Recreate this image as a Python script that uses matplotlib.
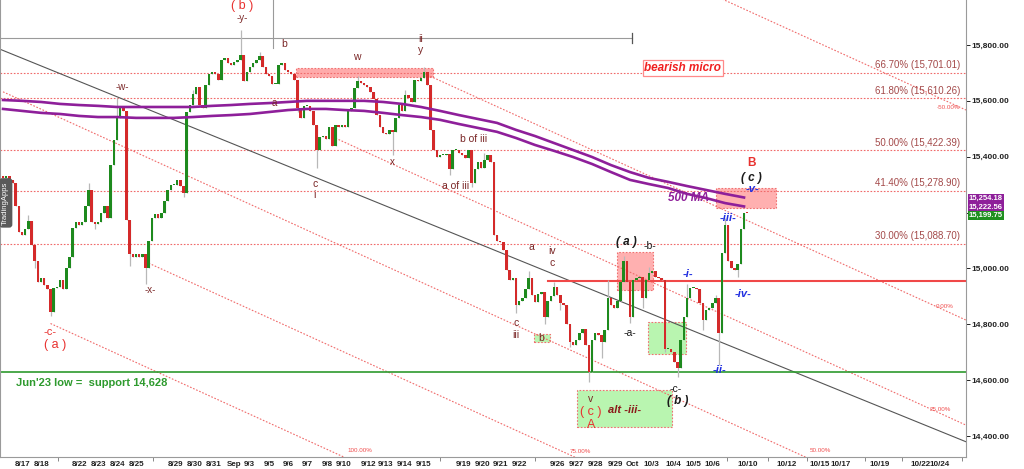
import matplotlib.pyplot as plt
from matplotlib.patches import Rectangle
import numpy as np

plt.rcParams['font.family'] = ['Liberation Sans', 'DejaVu Sans']

# ---- price data (4h bars) ----
first_open = 15330
closes = [
    15325, 15330, 15315, 15305, 15225, 15130, 15120, 15140, 15170, 15085,
    15025, 14950, 14965, 14940, 14925, 14845, 14930, 14935, 14960, 14925,
    15000, 15040, 15145, 15165, 15155, 15165, 15225, 15280, 15165, 15160,
    15165, 15200, 15225, 15180, 15370, 15460, 15540, 15580, 15565, 15175,
    15050, 15040, 15050, 15040, 15050, 15000, 15100, 15180, 15195, 15180,
    15200, 15240, 15280, 15300, 15300, 15315, 15295, 15270, 15560, 15585,
    15625, 15650, 15585, 15575, 15655, 15695, 15705, 15695, 15675, 15745,
    15755, 15735, 15730, 15740, 15745, 15765, 15670, 15705, 15720, 15735,
    15745, 15760, 15720, 15695, 15690, 15660, 15660, 15730, 15735, 15710,
    15705, 15695, 15675, 15575, 15540, 15580, 15580, 15565, 15515, 15425,
    15470, 15475, 15465, 15505, 15440, 15515, 15505, 15515, 15505, 15565,
    15575, 15645, 15670, 15665, 15655, 15650, 15630, 15605, 15550, 15505,
    15485, 15480, 15495, 15490, 15540, 15585, 15565, 15620, 15610, 15595,
    15675, 15670, 15680, 15705, 15655, 15495, 15425, 15400, 15405, 15405,
    15410, 15355, 15425, 15425, 15415, 15405, 15395, 15425, 15305, 15355,
    15380, 15360, 15390, 15405, 15380, 15120, 15100, 15095, 15065, 14995,
    14960, 14965, 14870, 14885, 14895, 14925, 14965, 14905, 14880, 14910,
    14915, 14825, 14885, 14900, 14935, 14905, 14875, 14870, 14800, 14735,
    14725, 14745, 14770, 14785, 14725, 14630, 14745, 14770, 14760, 14735,
    14780, 14895, 14870, 14860, 14885, 14950, 15025, 14950, 14825, 14960,
    14965, 14970, 14895, 14960, 14985, 14990, 14970, 14965, 14960, 14710,
    14710, 14700, 14665, 14645, 14745, 14825, 14895, 14930, 14930, 14925,
    14875, 14815, 14850, 14860, 14875, 14895, 14770, 15055, 15155, 15025,
    15000, 14995, 15015, 15140, 15200, 15199.75,
]
# visible wicks (bar index: price)
wick_lows = {10: 15000, 15: 14830, 29: 15140, 40: 15010, 45: 14945, 57: 15255,
             93: 15560, 99: 15360, 123: 15405, 141: 15335, 148: 15290,
             162: 14840, 171: 14800, 176: 14850, 179: 14720, 185: 14595,
             189: 14680, 198: 14805, 202: 14860, 209: 14700, 213: 14610,
             221: 14780, 226: 14655, 232: 14970}
wick_highs = {8: 15190, 27: 15305, 36: 15610, 60: 15640, 75: 15855, 81: 15775,
              112: 15690, 127: 15640, 133: 15720, 152: 15415, 166: 14990,
              174: 14950, 191: 14960, 196: 15045, 204: 15005, 216: 14945,
              225: 14905, 228: 15180}

# 500 MA pair, one reading every 6 bars
ma_every = 6
ma_upper = [15603, 15600, 15596, 15589, 15585, 15582, 15578, 15578, 15578, 15578,
            15578, 15582, 15585, 15589, 15592, 15596, 15600, 15600, 15600, 15600,
            15596, 15589, 15578, 15564, 15549, 15535, 15521, 15496, 15474, 15449,
            15424, 15399, 15370, 15345, 15324, 15310, 15295, 15281, 15267, 15254]
ma_lower = [15571, 15564, 15557, 15553, 15546, 15542, 15542, 15539, 15539, 15539,
            15542, 15546, 15549, 15553, 15560, 15567, 15571, 15571, 15567, 15564,
            15557, 15549, 15542, 15532, 15517, 15503, 15489, 15467, 15442, 15421,
            15399, 15374, 15345, 15317, 15302, 15288, 15267, 15252, 15234, 15222]

fib_names = ['66.70%', '61.80%', '50.00%', '41.40%', '30.00%']
fib_prices = [15701.01, 15610.26, 15422.39, 15278.90, 15088.70]

support = 14628
resistance = 14955
top_line = 15825

# fib channel
chan_levels = [-50, 0, 25, 50, 75, 100]
chan_start = [150, 133, 105, 0, 46, 15]
chan_anchor = (133, 15698)
chan_slope = -5.16
chan_step = 376

trend_pts = [(37, 15610), (304, 14380)]

date_labels = ['8/17', '8/18', '8/22', '8/23', '8/24', '8/25', '8/29', '8/30', '8/31',
               'Sep', '9/3', '9/5', '9/6', '9/7', '9/8', '9/10', '9/12', '9/13', '9/14',
               '9/15', '9/19', '9/20', '9/21', '9/22', '9/26', '9/27', '9/28', '9/29',
               'Oct', '10/3', '10/4', '10/5', '10/6', '10/10', '10/12', '10/15',
               '10/17', '10/19', '10/22', '10/24']
date_pos = [6.3, 12.3, 24.3, 30.3, 36.3, 42.3, 54.6, 60.6, 66.6, 72.9, 77.7, 84.0,
            90.0, 96.0, 102.3, 107.7, 115.3, 120.9, 126.9, 132.9, 145.3, 151.3,
            157.2, 163.2, 175.2, 181.2, 187.2, 193.3, 198.6, 204.9, 211.6, 217.9,
            223.9, 235.2, 247.6, 258.0, 264.6, 276.9, 289.6, 295.9]
blank_days = [17.4, 47.4, 138.0, 168.0, 228.6, 241.6, 253.9, 272.2, 284.0, 302.8]

price_ticks = [14400, 14600, 14800, 15000, 15200, 15400, 15600, 15800]
hidden_tick = 15200   # covered by the last-price tags in the source

last_prices = [15254.18, 15222.56, 15199.75]
last_colors = ['#8e1f9a', '#8e1f9a', '#1f8f1f']
tag_y = [0.565, 0.5465, 0.528]   # tag centres, axes fraction (stacked like the source)

# ---- figure ----
fig = plt.figure(figsize=(10.24, 4.69), dpi=100)
ax = fig.add_axes([0, 12 / 469, 966 / 1024, 457 / 469])
x0, x1 = -0.95, 304.1
ax.set_xlim(x0, x1)
ax.set_ylim(14325, 15961)

RED_DOT = dict(color='#f06a6a', lw=0.8, ls=(0, (1.5, 1.5)))
BROWN = '#7a2626'
RED = '#e8312f'
BLUE = '#1f2de0'

# zones
def zone(xa, xb, pa, pb, face, edge='#f07070', z=1):
    ax.add_patch(Rectangle((xa, pa), xb - xa, pb - pa, facecolor=face,
                           edgecolor=edge, lw=0.8, ls=(0, (1.5, 1.5)), zorder=z))

zone(92.5, 135.8, 15685, 15718, '#ffaaaa')
zone(193.9, 205.2, 14923, 15059, '#ffb0b0')
zone(225.1, 244.1, 15217, 15288, '#ffb0b0')
zone(167.7, 172.7, 14737, 14766, '#b9f5b0')
zone(203.7, 215.7, 14694, 14809, '#b9f5b0')
zone(181.2, 211.2, 14433, 14565, '#b9f5b0')

# fib retracement lines + labels
for name, p in zip(fib_names, fib_prices):
    ax.plot([x0, x1], [p, p], zorder=2, **RED_DOT)
    ax.text(302.2, p + 8, f'{name} ({p:,.2f})', ha='right', va='bottom',
            fontsize=7, color='#a44a4a', zorder=6)

# fib channel
ai, ap = chan_anchor
for lev, st in zip(chan_levels, chan_start):
    xs = np.array([st, x1])
    ax.plot(xs, ap - lev / 25 * chan_step + chan_slope * (xs - ai), zorder=2, **RED_DOT)
for txt, xp, yp in [('0.00%', 297.4, 14862), ('25.00%', 295.9, 14494),
                    ('50.00%', 258.0, 14350), ('75.00%', 182.2, 14343),
                    ('100.00%', 112.7, 14350), ('-50.00%', 298.5, 15575)]:
    ax.text(xp, yp, txt, fontsize=4.5, color='#f05050', ha='center', va='center', zorder=6)

# trend line
(ta, pa), (tb, pb) = trend_pts
k = (pb - pa) / (tb - ta)
ax.plot([x0, x1], [pa + k * (x0 - ta), pa + k * (x1 - ta)], color='#555555', lw=0.8, zorder=2)

# grey top marker
ax.plot([x0, 198.6], [top_line, top_line], color='#9a9a9a', lw=0.8, zorder=2)
ax.plot([198.6, 198.6], [top_line - 18, top_line + 18], color='#555555', lw=0.9, zorder=2)
ax.plot([85.3, 85.3], [15789, 15961], color='#9a9a9a', lw=0.8, zorder=2)

# support / resistance
ax.axhline(support, color='#2e9a2e', lw=1.2, zorder=2)
ax.plot([172.1, x1], [resistance, resistance], color='#f04848', lw=1.5, zorder=2)

# candles
c = np.array(closes, dtype=float)
o = np.r_[first_open, c[:-1]]
n = len(c)
idx = np.arange(n)
hi = np.maximum(o, c)
lo = np.minimum(o, c)
for i, v in wick_highs.items():
    hi[i] = max(hi[i], v)
for i, v in wick_lows.items():
    lo[i] = min(lo[i], v)
ax.vlines(idx, lo, hi, color='#b8b8b8', lw=0.9, zorder=3)
body = np.maximum(np.abs(c - o), 4)
bot = np.minimum(o, c)
up = c >= o
ax.bar(idx[up], body[up], bottom=bot[up], width=0.8, color='#1e8a1e', zorder=4)
ax.bar(idx[~up], body[~up], bottom=bot[~up], width=0.8, color='#d42a2a', zorder=4)

# 500 MA
mx = np.arange(len(ma_upper)) * ma_every
ax.plot(mx, ma_upper, color='#8e1f9a', lw=1.9, zorder=5)
ax.plot(mx, ma_lower, color='#8e1f9a', lw=1.9, zorder=5)

# wave labels
def lab(x, y, s, color=BROWN, size=7, weight='normal', style='normal'):
    ax.text(x, y, s, color=color, fontsize=size, fontweight=weight, fontstyle=style,
            ha='center', va='center', zorder=7)

lab(75.5, 15940, '( b )', RED, 9)
lab(75.5, 15895, '-y-')
lab(88.7, 15804, 'b', size=7.5)
lab(37.6, 15650, '-w-')
lab(85.6, 15592, 'a')
lab(111.8, 15757, 'w', size=7.5)
lab(132, 15821, 'ii', size=7.5)
lab(132, 15782, 'y', size=7.5)
lab(122.8, 15381, 'x')
lab(98.5, 15302, 'c', size=7.5)
lab(98.5, 15263, 'i', size=7.5)
lab(148.7, 15464, 'b of iii', size=7.5)
lab(143.0, 15295, 'a of iii', size=7.5)
lab(166.7, 15077, 'a', size=7.5)
lab(173.4, 15063, 'iv', size=7.5)
lab(173.4, 15020, 'c', size=7.5)
lab(162.0, 14805, 'c', size=7.5)
lab(162.0, 14762, 'iii', size=7.5)
lab(169.9, 14751, 'b', size=7.5)
lab(185.7, 14533, 'v', size=7.5)
lab(185.7, 14486, '( c )', RED, 9)
lab(185.7, 14440, 'A', RED, 9)
lab(196.4, 14494, 'alt -iii-', '#8b1a1a', 8, 'bold', 'italic')
lab(197.0, 15095, '( a )', '#1a1a1a', 8.5, 'bold', 'italic')
lab(204.3, 15081, '-b-', '#1a1a1a', 7.5)
lab(198.0, 14769, '-a-', '#1a1a1a', 7.5)
lab(212.5, 14569, '-c-', '#1a1a1a', 7.5)
lab(213.1, 14526, '( b )', '#1a1a1a', 8.5, 'bold', 'italic')
lab(216.3, 14980, '-i-', BLUE, 8, 'bold', 'italic')
lab(226.4, 14637, '-ii-', BLUE, 8, 'bold', 'italic')
lab(228.9, 15181, '-iii-', BLUE, 8, 'bold', 'italic')
lab(233.7, 14909, '-iv-', BLUE, 8, 'bold', 'italic')
lab(236.8, 15285, '-v-', BLUE, 8, 'bold', 'italic')
lab(236.2, 15324, '( c )', '#1a1a1a', 8.5, 'bold', 'italic')
lab(236.5, 15378, 'B', RED, 8.5, 'bold')
lab(216.6, 15252, '500 MA', '#8e1f9a', 8.5, 'bold', 'italic')
lab(46.4, 14923, '-x-')
lab(14.8, 14773, '-c-', RED, 8)
lab(16.4, 14726, '( a )', RED, 9)

ax.text(4.1, support - 38, "Jun'23 low =  support 14,628", color='#2e9a2e',
        fontsize=8, fontweight='bold', ha='left', va='center', zorder=7)
ax.text(214.7, 15718, 'bearish micro', color='#f02020', fontsize=8.5,
        fontweight='bold', fontstyle='italic', ha='center', va='center', zorder=7,
        bbox=dict(boxstyle='square,pad=0.15', facecolor='white', edgecolor='#ff8a8a', lw=0.9))
ax.text(0.006, 0.556, 'TradingApps', transform=ax.transAxes, rotation=90, color='white',
        fontsize=5.5, ha='center', va='center', zorder=8,
        bbox=dict(boxstyle='round,pad=0.4', facecolor='#5a5a5a', edgecolor='none'))

# last price tags on the right axis
for p, col, ty in zip(last_prices, last_colors, tag_y):
    ax.text(1.003, ty, f'{p:,.2f}', transform=ax.transAxes, color='white',
            fontsize=5.5, fontweight='bold', ha='left', va='center', clip_on=False, zorder=9,
            bbox=dict(boxstyle='square,pad=0.12', facecolor=col, edgecolor='none'))

# axes
ax.yaxis.tick_right()
ax.set_yticks(price_ticks)
ax.set_yticklabels(['' if v == hidden_tick else f'{v:,.2f}' for v in price_ticks])
ax.tick_params(axis='y', direction='out', length=3, pad=1, labelsize=6,
               colors='#222222', width=0.7)
for t in ax.get_yticklabels():
    t.set_fontweight('bold')
ax.set_xticks(date_pos)
ax.set_xticklabels(date_labels)
ax.set_xticks(blank_days, minor=True)
ax.tick_params(axis='x', which='major', length=0, pad=3, labelsize=5.8, colors='#222222')
ax.tick_params(axis='x', which='minor', length=3, width=0.7, color='#888888')
for t in ax.get_xticklabels():
    t.set_fontweight('bold')
ax.spines['top'].set_visible(False)
for s in ['left', 'right', 'bottom']:
    ax.spines[s].set_color('#9a9a9a')
    ax.spines[s].set_linewidth(0.8)

fig.savefig('out.png', dpi=100)
